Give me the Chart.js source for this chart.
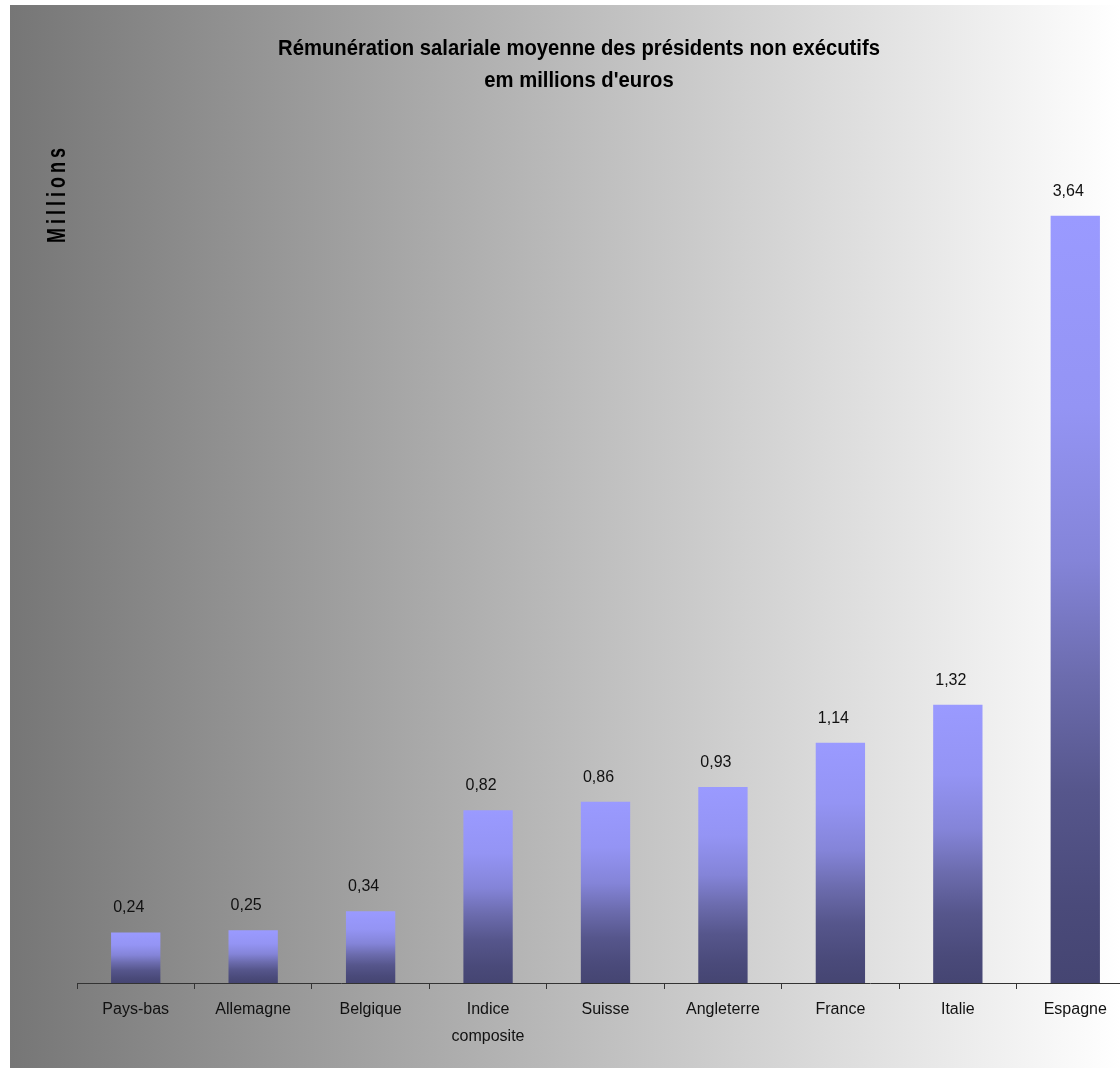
<!DOCTYPE html>
<html lang="fr">
<head>
<meta charset="utf-8">
<title>Rémunération salariale moyenne des présidents non exécutifs</title>
<script src="https://cdn.jsdelivr.net/npm/chart.js"></script>
<style>
    html, body { margin: 0; padding: 0; background: #fff; overflow: hidden; }
    canvas { display: block; }
</style>
</head>
<body>
<canvas id="myChart" width="1134" height="1069"></canvas>
<script>
// Pays et rémunération moyenne (millions d'euros)
const pays = ["Pays-bas", "Allemagne", "Belgique", ["Indice", "composite"], "Suisse", "Angleterre", "France", "Italie", "Espagne"];
const remuneration = [0.24, 0.25, 0.34, 0.82, 0.86, 0.93, 1.14, 1.32, 3.64];
const titre = ["Rémunération salariale moyenne des présidents non exécutifs", "em millions d'euros"];
const titreAxe = "Millions";

const FONT = "'Liberation Sans', Arial, sans-serif";

// dégradé vertical de chaque barre, du haut de la barre jusqu'à la base
const barGradient = (context) => {
    const chart = context.chart;
    const yScale = chart.scales.y;
    if (context.type !== "data" || !yScale) return "#9999ff";
    const top = yScale.getPixelForValue(context.raw);
    const base = yScale.getPixelForValue(0);
    if (!isFinite(top) || !isFinite(base) || top === base) return "#9999ff";
    const g = chart.ctx.createLinearGradient(0, top, 0, base);
    g.addColorStop(0, "#9a9aff");
    g.addColorStop(0.25, "#9494f4");
    g.addColorStop(0.45, "#8484d8");
    g.addColorStop(0.6, "#6c6cae");
    g.addColorStop(0.75, "#56568c");
    g.addColorStop(0.9, "#4a4a7a");
    g.addColorStop(1, "#454572");
    return g;
};

// fond gris -> blanc
const fondPlugin = {
    id: "fond",
    beforeDraw(chart) {
        const ctx = chart.ctx;
        ctx.save();
        ctx.fillStyle = "#ffffff";
        ctx.fillRect(0, 0, chart.width, chart.height);
        const g = ctx.createLinearGradient(10, 0, 1120, 0);
        g.addColorStop(0, "#767676");
        g.addColorStop(1, "#ffffff");
        ctx.fillStyle = g;
        ctx.fillRect(10, 5, chart.width - 10, 1063);
        ctx.restore();
    }
};

// valeurs au-dessus des barres, avec virgule
const valeursPlugin = {
    id: "valeurs",
    afterDatasetsDraw(chart) {
        const ctx = chart.ctx;
        const meta = chart.getDatasetMeta(0);
        ctx.save();
        ctx.font = "16px " + FONT;
        ctx.fillStyle = "#111";
        ctx.textAlign = "center";
        ctx.textBaseline = "alphabetic";
        meta.data.forEach((bar, i) => {
            const txt = remuneration[i].toFixed(2).replace(".", ",");
            ctx.fillText(txt, bar.x - 7, bar.y - 20);
        });
        ctx.restore();
    }
};

// titre sur deux lignes + titre vertical de l'axe
const titresPlugin = {
    id: "titres",
    afterDraw(chart) {
        const ctx = chart.ctx;
        ctx.save();
        ctx.fillStyle = "#000";
        ctx.font = "bold 22px " + FONT;
        ctx.textAlign = "center";
        ctx.textBaseline = "alphabetic";
        [55, 87].forEach((y, i) => {
            ctx.save();
            ctx.translate(579, y);
            ctx.scale(0.92, 1);
            ctx.fillText(titre[i], 0, 0);
            ctx.restore();
        });

        ctx.translate(65, 243);
        ctx.rotate(-Math.PI / 2);
        ctx.scale(1, 1.45);
        ctx.font = "bold 18px " + FONT;
        ctx.textAlign = "left";
        ctx.letterSpacing = "4px";
        ctx.fillText(titreAxe, 0, 0);
        ctx.restore();
    }
};

let myChart;

const AddGraphic = () => {
    if (myChart) {
        myChart.destroy();
    }
    myChart = new Chart("myChart", {
        type: "bar",
        data: {
            labels: pays,
            datasets: [{
                data: remuneration,
                backgroundColor: barGradient,
                borderWidth: 0,
                barPercentage: 0.42,
                categoryPercentage: 1
            }]
        },
        options: {
            responsive: false,
            animation: false,
            layout: {
                padding: { left: 77, top: 140, right: 0, bottom: 0 }
            },
            plugins: {
                legend: { display: false },
                tooltip: { enabled: false },
                title: { display: false }
            },
            scales: {
                x: {
                    offset: true,
                    grid: {
                        display: true,
                        drawOnChartArea: false,
                        drawTicks: true,
                        tickLength: 6,
                        color: "#333",
                        offset: true
                    },
                    border: { display: true, color: "#333", width: 1 },
                    ticks: {
                        color: "#111",
                        padding: 7,
                        maxRotation: 0,
                        autoSkip: false,
                        font: { family: FONT, size: 16, lineHeight: 1.69 }
                    },
                    afterFit: (axis) => { axis.height = 86; }
                },
                y: {
                    display: false,
                    min: 0,
                    max: 4
                }
            }
        },
        plugins: [fondPlugin, valeursPlugin, titresPlugin]
    });
};

AddGraphic();
</script>
</body>
</html>
